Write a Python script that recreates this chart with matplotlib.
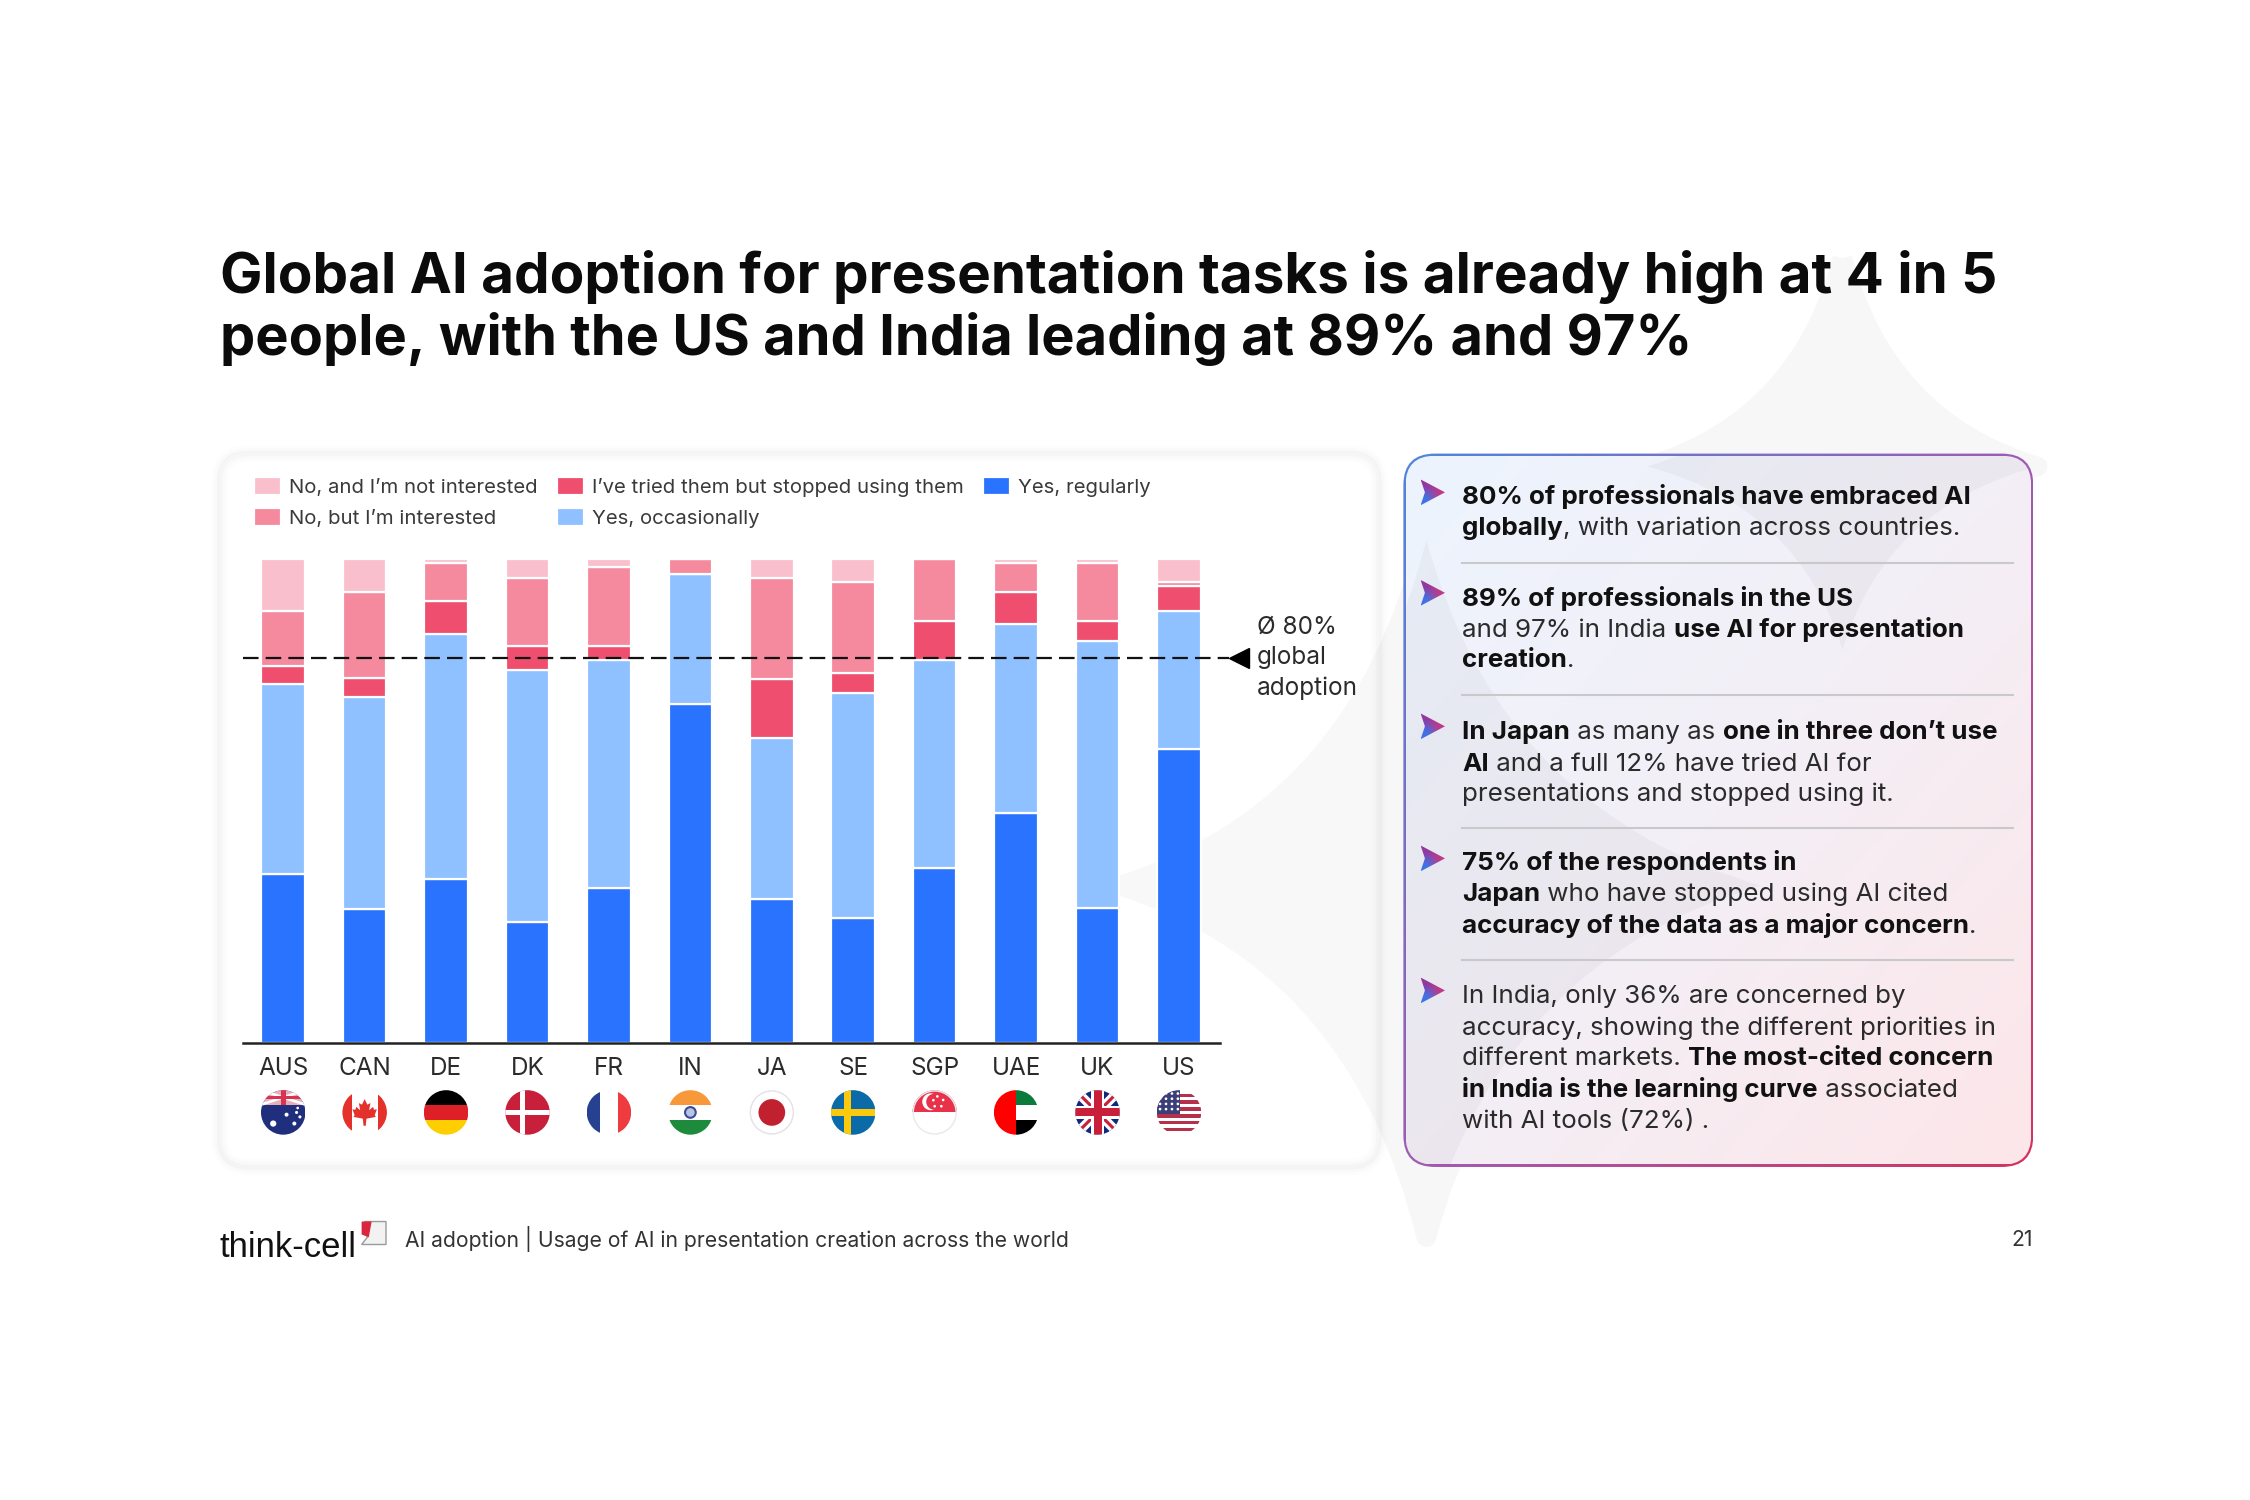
import numpy as np
import matplotlib
matplotlib.use('Agg')
import matplotlib.pyplot as plt
from matplotlib.patches import Rectangle, Circle, Polygon, FancyBboxPatch, PathPatch
from matplotlib.path import Path
from matplotlib.transforms import Affine2D

plt.rcParams['font.family'] = ['Inter', 'DejaVu Sans']

countries = ['AUS', 'CAN', 'DE', 'DK', 'FR', 'IN', 'JA', 'SE', 'SGP', 'UAE', 'UK', 'US']
regularly = [35.0, 27.6, 33.8, 24.9, 32.0, 70.0, 29.7, 25.8, 36.2, 47.6, 27.9, 60.8]
occasionally = [39.2, 43.9, 50.7, 52.1, 47.2, 27.0, 33.4, 46.6, 43.0, 38.9, 55.1, 28.5]
stopped = [3.8, 4.0, 6.9, 5.0, 2.8, 0.0, 12.1, 4.0, 7.9, 6.8, 4.1, 5.1]
interested = [11.3, 17.8, 7.8, 14.1, 16.3, 3.0, 20.9, 18.8, 12.9, 5.9, 12.1, 0.8]
not_interested = [10.7, 6.7, 0.8, 3.9, 1.7, 0.0, 3.9, 4.8, 0.0, 0.8, 0.8, 4.8]

series = [
    ('Yes, regularly', regularly, '#2a73ff'),
    ('Yes, occasionally', occasionally, '#8fc0ff'),
    ("I\u2019ve tried them but stopped using them", stopped, '#f04e6e'),
    ("No, but I\u2019m interested", interested, '#f5899e'),
    ("No, and I\u2019m not interested", not_interested, '#f9bfcd'),
]
global_avg = 79.6  # where the dashed line sits in the picture, labelled 80%

title_lines = ['Global AI adoption for presentation tasks is already high at 4 in 5',
               'people, with the US and India leading at 89% and 97%']

# bullets: (text, bold) runs per line
panel_lines = [
    (345, [('80% of professionals have embraced AI', True)]),
    (367, [('globally', True), (', with variation across countries.', False)]),
    (416, [('89% of professionals in the US', True)]),
    (438, [('and 97% in India ', False), ('use AI for presentation', True)]),
    (459, [('creation', True), ('.', False)]),
    (509, [('In Japan', True), (' as many as ', False), ('one in three don\u2019t use', True)]),
    (531, [('AI', True), (' and a full 12% have tried AI for', False)]),
    (552, [('presentations and stopped using it.', False)]),
    (600, [('75% of the respondents in', True)]),
    (622, [('Japan', True), (' who have stopped using AI cited', False)]),
    (644, [('accuracy of the data as a major concern', True), ('.', False)]),
    (693, [('In India, only 36% are concerned by', False)]),
    (715, [('accuracy, showing the different priorities in', False)]),
    (736, [('different markets. ', False), ('The most-cited concern', True)]),
    (758, [('in India is the learning curve', True), (' associated', False)]),
    (780, [('with AI tools (72%) .', False)]),
]
divider_y = [392, 484, 577, 669]
bullet_y = [343, 413, 506, 598, 690]

W, H = 1568, 1045  # layout units, same proportions as the slide
fig = plt.figure(figsize=(22.5, 15), dpi=100, facecolor='white')
ov = fig.add_axes([0, 0, 1, 1], zorder=0)
ov.set_xlim(0, W)
ov.set_ylim(H, 0)
ov.set_autoscale_on(False)
ov.axis('off')
renderer = fig.canvas.get_renderer()
PX = 2250 / W


def star(center, tips, pull=0.22):
    cx, cy = center
    verts, codes = [tips[0]], [Path.MOVETO]
    for i in range(4):
        a, b = tips[i], tips[(i + 1) % 4]
        verts += [(cx + pull * (a[0] + b[0] - 2 * cx), cy + pull * (a[1] + b[1] - 2 * cy)), b]
        codes += [Path.CURVE3, Path.CURVE3]
    return Path(verts, codes)


star_paths = [star((1284, 325), [(1284, 180), (1420, 325), (1284, 453), (1148, 325)]),
              star((994, 617), [(994, 376), (1227, 617), (994, 862), (781, 617)])]


def rounded(x0, y0, x1, y1, r, **kw):
    return FancyBboxPatch((x0 + r, y0 + r), x1 - x0 - 2 * r, y1 - y0 - 2 * r,
                          boxstyle='round,pad=%f,rounding_size=%f' % (r, r), **kw)


def gradient(extent, c0, c1, c2, zorder, clip):
    # diagonal three colour blend, top left to bottom right
    n = 160
    yy, xx = np.mgrid[0:1:n * 1j, 0:1:n * 1j]
    t = (xx + yy) / 2
    c0, c1, c2 = [np.array(matplotlib.colors.to_rgb(c)) for c in (c0, c1, c2)]
    tt = t[..., None]
    img = np.where(tt < 0.5, c0 + (c1 - c0) * tt * 2, c1 + (c2 - c1) * (tt - 0.5) * 2)
    im = ov.imshow(img, extent=extent, origin='upper', aspect='auto', zorder=zorder)
    im.set_clip_path(clip)


# background stars
for p in star_paths:
    ov.add_patch(PathPatch(p, fc='#f7f7f7', ec='#f7f7f7', lw=14, joinstyle='round', zorder=1))

# chart card: only a soft outer shadow and a thin veil, the star shows through it
for lw, a in [(12, 0.009), (8, 0.012), (4, 0.024)]:
    ov.add_patch(rounded(153, 316, 961, 813, 20, fc='none', ec='black', lw=lw, alpha=a, zorder=2))
ov.add_patch(rounded(153, 315, 961, 812, 20, fc='white', ec='none', alpha=0.2, zorder=3))

# gradient panel with gradient border
outer = rounded(978, 316, 1417, 813, 22, fc='none', ec='none', zorder=3)
ov.add_patch(outer)
gradient((978, 1417, 813, 316), '#4f86dc', '#a05cb5', '#d2345c', 3, outer)
inner = rounded(979.5, 317.5, 1415.5, 811.5, 20.5, fc='none', ec='none', zorder=4)
ov.add_patch(inner)
gradient((980, 1415, 811, 318), '#edf4fe', '#f3eff6', '#fde6e9', 4, inner)
for p in star_paths:
    sp = PathPatch(p, fc='black', ec='none', alpha=0.03, zorder=5)
    ov.add_patch(sp)
    sp.set_clip_path(inner)

# title
for y, line, size in zip([204, 247], title_lines, [40.8, 40.3]):
    ov.text(153, y, line, fontsize=size, fontweight='bold', color='#0b0b0b', zorder=10)


def run_width(s, weight, size):
    probe = ov.text(0, 0, '|' + s + '|', fontsize=size, fontweight=weight)
    w = probe.get_window_extent(renderer).width
    probe.set_text('||')
    w -= probe.get_window_extent(renderer).width
    probe.remove()
    return w / PX


for y, runs in panel_lines:
    x = 1019
    for s, bold in runs:
        weight = 'bold' if bold else 'normal'
        ov.text(x, y + 6, s, fontsize=18.7, fontweight=weight,
                color='#111111' if bold else '#2b2b2b', zorder=10)
        x += run_width(s, weight, 18.7)

for y in divider_y:
    ov.plot([1019, 1403], [y, y], color='#c9c9cc', lw=1.5, zorder=6)

# bullet arrows
for y in bullet_y:
    arrow = Polygon([(990, y - 9), (1007, y), (990, y + 9), (993, y)], closed=True,
                    fc='none', ec='none', zorder=7)
    ov.add_patch(arrow)
    grad = np.array([[[0.58, 0.22, 0.62], [0.80, 0.20, 0.50]],
                     [[0.25, 0.45, 0.90], [0.70, 0.25, 0.55]]])
    im = ov.imshow(grad, extent=(990, 1007, y + 9, y - 9), origin='upper', aspect='auto',
                   interpolation='bilinear', zorder=7)
    im.set_clip_path(arrow)

# chart
left, right, top, base = 169, 850, 389.5, 726.5
ax = fig.add_axes([left / W, (H - base) / H, (right - left) / W, (base - top) / H], zorder=3)
ax.patch.set_alpha(0)
positions = np.arange(len(countries))
bottom = np.zeros(len(countries))
for label, values, color in series:
    ax.bar(positions, values, 0.535, bottom=bottom, color=color, edgecolor='white',
           linewidth=1.6, label=label, zorder=2)
    bottom += np.array(values)
ax.set_xlim(-0.5, 11.5)
ax.set_ylim(0, 100)
ax.plot([-0.5, 11.62], [global_avg, global_avg], color='#111111', lw=1.6,
        dashes=(7, 3.2), zorder=4, clip_on=False)
ax.plot([11.74], [global_avg], marker='<', ms=15, color='black', clip_on=False, zorder=4)
ax.text(11.96, global_avg, '\u00d8 80%\nglobal\nadoption', fontsize=17.5, color='#2b2b2b',
        va='center', ha='left', linespacing=1.39)
for s in ['top', 'left', 'right']:
    ax.spines[s].set_visible(False)
ax.spines['bottom'].set_linewidth(1.8)
ax.spines['bottom'].set_color('#222222')
ax.set_yticks([])
ax.set_xticks(positions)
ax.set_xticklabels(countries, fontsize=17.5, color='#2b2b2b')
ax.tick_params(axis='x', length=0, pad=10)

handles, labels = ax.get_legend_handles_labels()
ax.legend(handles[::-1], labels[::-1], ncol=3, loc='lower left', frameon=False,
          bbox_to_anchor=(8 / 681, 1.064), borderpad=0, borderaxespad=0, fontsize=14.65,
          handlelength=1.34, handleheight=0.96, handletextpad=0.4, labelspacing=0.55,
          columnspacing=0.92, labelcolor='#3a3a3a')


# flags, drawn in a unit circle
def flag(i, name):
    cx = left + (i + 0.5) * (right - left) / 12
    cy, r = 775, 15.5
    t = Affine2D().scale(r, -r).translate(cx, cy) + ov.transData
    clip = Circle((cx, cy), r, transform=ov.transData)

    def add(p):
        p.set_transform(t)
        p.set_zorder(8)
        ov.add_patch(p)
        p.set_clip_path(clip)

    def box(x0, y0, x1, y1, c):
        add(Rectangle((x0, y0), x1 - x0, y1 - y0, fc=c, ec='none'))

    def disc(x, y, rad, c, ec='none', lw=0):
        add(Circle((x, y), rad, fc=c, ec=ec, lw=lw))

    def line(x0, y0, x1, y1, c, w):
        d = np.array([y1 - y0, x0 - x1], float)
        d = d / np.hypot(*d) * w / 2
        add(Polygon([(x0 + d[0], y0 + d[1]), (x1 + d[0], y1 + d[1]),
                     (x1 - d[0], y1 - d[1]), (x0 - d[0], y0 - d[1])], fc=c, ec='none'))

    if name == 'AUS':
        box(-1, -1, 1, 1, '#1f2f7d')
        box(-1, 0.35, 1, 1, '#e8aebc')
        line(-1, 1, 1, 0.35, 'white', 0.12)
        line(-1, 0.35, 1, 1, 'white', 0.12)
        box(-0.12, 0.35, 0.12, 1, '#d8344f')
        box(-1, 0.6, 1, 0.76, '#d8344f')
        for sx, sy, sr in [(-0.45, -0.5, 0.14), (0.15, -0.1, 0.09), (0.6, 0.0, 0.07),
                           (0.75, -0.2, 0.07), (0.5, -0.5, 0.09), (0.65, 0.2, 0.06)]:
            disc(sx, sy, sr, 'white')
    elif name == 'CAN':
        box(-1, -1, 1, 1, 'white')
        box(-1, -1, -0.58, 1, '#e4312b')
        box(0.58, -1, 1, 1, '#e4312b')
        leaf = [(0, 0.6), (0.12, 0.35), (0.26, 0.42), (0.2, 0.1), (0.38, 0.25), (0.42, 0.12),
                (0.55, 0.14), (0.45, -0.12), (0.5, -0.2), (0.08, -0.28), (0.05, -0.6),
                (-0.05, -0.6), (-0.08, -0.28), (-0.5, -0.2), (-0.45, -0.12), (-0.55, 0.14),
                (-0.42, 0.12), (-0.38, 0.25), (-0.2, 0.1), (-0.26, 0.42), (-0.12, 0.35)]
        add(Polygon(leaf, fc='#e4312b', ec='none'))
    elif name == 'DE':
        box(-1, 0.33, 1, 1, '#000000')
        box(-1, -0.33, 1, 0.33, '#dd1f26')
        box(-1, -1, 1, -0.33, '#ffce00')
    elif name == 'DK':
        box(-1, -1, 1, 1, '#c8203a')
        box(-0.36, -1, -0.12, 1, 'white')
        box(-1, -0.12, 1, 0.12, 'white')
    elif name == 'FR':
        box(-1, -1, -0.42, 1, '#26418f')
        box(-0.42, -1, 0.42, 1, 'white')
        box(0.42, -1, 1, 1, '#ee3b3f')
    elif name == 'IN':
        box(-1, 0.33, 1, 1, '#f7993a')
        box(-1, -0.33, 1, 0.33, 'white')
        box(-1, -1, 1, -0.33, '#1d8a3c')
        disc(0, 0, 0.24, '#b9c4e4', ec='#3a4d96', lw=1.5)
    elif name == 'JA':
        box(-1, -1, 1, 1, 'white')
        disc(0, 0, 0.6, '#c1202f')
        disc(0, 0, 0.98, 'none', ec='#e6e2e8', lw=1.5)
    elif name == 'SE':
        box(-1, -1, 1, 1, '#0b6ba8')
        box(-0.42, -1, -0.12, 1, '#fcc90d')
        box(-1, -0.16, 1, 0.16, '#fcc90d')
    elif name == 'SGP':
        box(-1, -1, 1, 1, 'white')
        box(-1, 0, 1, 1, '#e8324a')
        disc(-0.18, 0.48, 0.38, 'white')
        disc(-0.02, 0.48, 0.36, '#e8324a')
        for sx, sy in [(0.12, 0.72), (0.38, 0.56), (0.3, 0.28), (0.0, 0.28), (-0.06, 0.55)]:
            disc(sx, sy, 0.06, 'white')
        disc(0, 0, 0.98, 'none', ec='#ece8ec', lw=1.5)
    elif name == 'UAE':
        box(-1, -1, -0.02, 1, '#ff0000')
        box(-0.02, 0.33, 1, 1, '#0c7a3a')
        box(-0.02, -0.33, 1, 0.33, 'white')
        box(-0.02, -1, 1, -0.33, '#000000')
    elif name == 'UK':
        box(-1, -1, 1, 1, '#0f2a7a')
        line(-1, 1, 1, -1, 'white', 0.42)
        line(-1, -1, 1, 1, 'white', 0.42)
        line(-1, 1, 1, -1, '#c8203a', 0.14)
        line(-1, -1, 1, 1, '#c8203a', 0.14)
        box(-0.3, -1, 0.3, 1, 'white')
        box(-1, -0.3, 1, 0.3, 'white')
        box(-0.18, -1, 0.18, 1, '#c8203a')
        box(-1, -0.18, 1, 0.18, '#c8203a')
    elif name == 'US':
        box(-1, -1, 1, 1, 'white')
        for k in range(7):
            box(-1, 1 - 2 * (2 * k + 1) / 13 - 2 / 13, 1, 1 - 2 * (2 * k + 1) / 13 + 0, '#b5304a')
        box(-1, -0.05, 0.05, 1, '#3c3f77')
        for sx in np.linspace(-0.85, -0.05, 4):
            for sy in np.linspace(0.15, 0.85, 4):
                disc(sx, sy, 0.06, 'white')


for i, c in enumerate(countries):
    flag(i, c)

# footer
ov.text(153, 876, 'think-cell', fontsize=25, family=['Liberation Sans', 'DejaVu Sans'],
        color='#111111', zorder=10)
ov.add_patch(Polygon([(254, 851), (269, 851), (269, 867), (252, 867), (256, 862)], fc='#f2f2f2',
                     ec='#9a9a9a', lw=1, zorder=10))
ov.add_patch(Polygon([(252, 851), (259, 851), (257, 862), (252, 860)], fc='#d9263e', ec='none', zorder=10))
ov.text(282, 863.5, 'AI adoption | Usage of AI in presentation creation across the world',
        fontsize=15.2, color='#333333', va='center', zorder=10)
ov.text(1417, 864, '21', fontsize=15.2, color='#333333', va='center', ha='right', zorder=10)

fig.savefig('out.png', dpi=100)
